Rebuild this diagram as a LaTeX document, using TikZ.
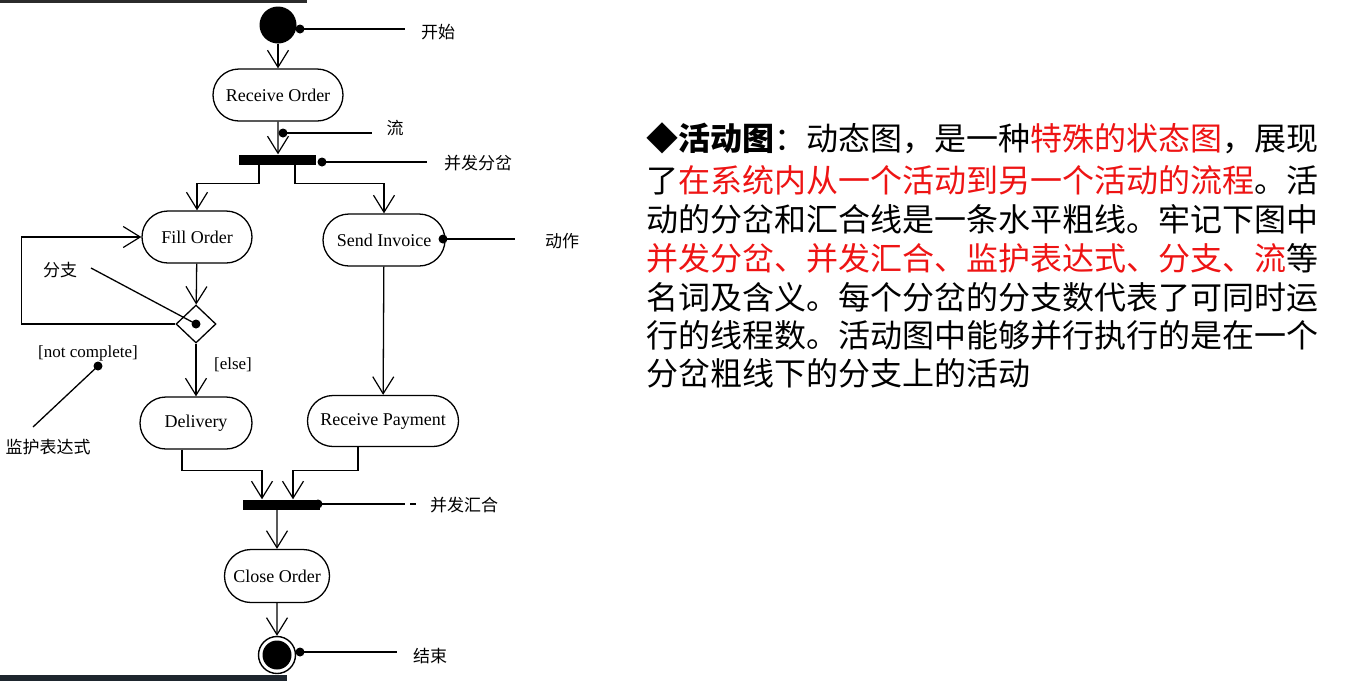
\documentclass[tikz,border=0pt]{standalone}
\usepackage{fontspec}
\setmainfont{Liberation Serif}
\newfontfamily\cjk{Noto Sans CJK SC}
\usetikzlibrary{arrows.meta,shapes.misc,shapes.geometric}
\definecolor{hl}{RGB}{238,20,20}
\definecolor{topbar}{RGB}{43,43,43}
\definecolor{botbar}{RGB}{30,38,46}

\tikzset{
  act/.style={draw, rounded rectangle, line width=1.3pt, inner sep=0pt,
    font=\fontsize{18}{21}\selectfont},
  syncbar/.style={fill=black, minimum width=77pt, minimum height=10pt, inner sep=0pt},
  flow/.style={line width=1.3pt, -{Straight Barb[length=17pt,width=21pt,line width=1.2pt]}},
  note/.style={line width=1.3pt},
  dot/.style={circle, fill=black, minimum size=9pt, inner sep=0pt},
  lbl/.style={font=\cjk\fontsize{17}{19}\selectfont, inner sep=0pt},
  guard/.style={font=\fontsize{17}{19}\selectfont, inner sep=0pt},
  para/.style={anchor=west, inner sep=0pt, font=\cjk\fontsize{32}{32}\selectfont},
}

\begin{document}
\begin{tikzpicture}[x=1pt,y=-1pt]
\useasboundingbox (0,0) rectangle (1371,681);
\fill[white] (0,0) rectangle (1371,681);

% frame strips
\fill[topbar] (0,0) rectangle (307,3);
\fill[botbar] (0,675) rectangle (287,681);

% ---- activity nodes ----
\node[circle, fill=black, minimum size=37pt, inner sep=0pt] (start) at (278,25) {};
\node[act, minimum width=130pt, minimum height=52pt] (recv) at (278,95) {Receive Order};
\node[syncbar] (fork) at (277.5,159.5) {};
\node[act, minimum width=110pt, minimum height=52pt] (fill) at (197,237) {Fill Order};
\node[act, minimum width=122pt, minimum height=52pt] (send) at (384,240) {Send Invoice};
\node[diamond, draw, line width=1.3pt, minimum width=40pt, minimum height=38pt, inner sep=0pt] (dec) at (196,324) {};
\node[act, minimum width=112pt, minimum height=52pt] (deliv) at (196,423) {Delivery};
\node[act, minimum width=151pt, minimum height=51pt] (pay) at (383,421) {Receive Payment};
\node[syncbar] (join) at (281.5,504.5) {};
\node[act, minimum width=105pt, minimum height=53pt] (close) at (277,576) {Close Order};
\node[circle, draw, line width=1.4pt, minimum size=37pt, inner sep=0pt] (stop) at (277,655) {};
\node[circle, fill=black, minimum size=29pt, inner sep=0pt] at (stop) {};

% ---- control flows ----
\draw[flow] (start) -- (recv);
\draw[flow] (recv) -- (fork.north -| recv);
\draw[flow] ([xshift=-18.5pt]fork.south) -- ++(0,19) -| (fill.north);
\draw[flow] ([xshift=17.5pt]fork.south) -- ++(0,19) -| (send.north);
\draw[flow] (fill) -- (dec);
\draw[flow] (dec.west) -- ++(-154,0) |- (fill.west);
\draw[flow] (dec) -- (deliv);
\draw[flow] (send) -- (pay);
\draw[flow] ([xshift=-14pt]deliv.south) -- ++(0,21) -| ([xshift=-19.5pt]join.north);
\draw[flow] ([xshift=-25pt]pay.south) -- ++(0,23) -| ([xshift=11.5pt]join.north);
\draw[flow] (join.south -| close) -- (close);
\draw[flow] (close) -- (stop);

% ---- guards ----
\node[guard] (gnc) at (88,353) {[not complete]};
\node[guard] (gel) at (233,365) {[else]};

% ---- annotations ----
\node[dot] (dStart) at (300,29) {};
\coordinate (eStart) at (405,29);
\node[lbl] (lStart) at (438,32) {开始};
\draw[note] (dStart.center) -- (eStart);

\node[dot] (dFlow) at (283,133) {};
\coordinate (eFlow) at (372,133);
\node[lbl] (lFlow) at (395,128) {流};
\draw[note] (dFlow.center) -- (eFlow);

\node[dot] (dFork) at (322,162) {};
\coordinate (eFork) at (427,162);
\node[lbl] (lFork) at (478,163) {并发分岔};
\draw[note] (dFork.center) -- (eFork);

\node[dot] (dAct) at (443,239) {};
\coordinate (eAct) at (515,239);
\node[lbl] (lAct) at (562,241) {动作};
\draw[note] (dAct.center) -- (eAct);

\node[dot] (dBr) at (dec) {};
\coordinate (eBr) at (91,268);
\node[lbl] (lBr) at (60,270) {分支};
\draw[note] (dBr.center) -- (eBr);

\node[dot] (dGd) at (98,366) {};
\coordinate (eGd) at (33,427);
\node[lbl] (lGd) at (48,447) {监护表达式};
\draw[note] (dGd.center) -- (eGd);

\node[dot] (dJoin) at (318,504) {};
\coordinate (eJoin) at (405,504);
\coordinate (sJoin) at (410,504);
\coordinate (tJoin) at (416,504);
\node[lbl] (lJoin) at (464,505) {并发汇合};
\draw[note] (dJoin.center) -- (eJoin);
\draw[note] (sJoin) -- (tJoin);

\node[dot] (dStop) at (300,652) {};
\coordinate (eStop) at (397,652);
\node[lbl] (lStop) at (430,656) {结束};
\draw[note] (dStop.center) -- (eStop);

% ---- explanatory text ----
\node[para] (p1) at (646,138) {{\bfseries ◆活动图}：动态图，是一种\textcolor{hl}{特殊的状态图}，展现};
\node[para] (p2) at (646,180) {了\textcolor{hl}{在系统内从一个活动到另一个活动的流程}。活};
\node[para] (p3) at (646,219) {动的分岔和汇合线是一条水平粗线。牢记下图中};
\node[para] (p4) at (646,258) {\textcolor{hl}{并发分岔、并发汇合、监护表达式、分支、流}等};
\node[para] (p5) at (646,297) {名词及含义。每个分岔的分支数代表了可同时运};
\node[para] (p6) at (646,335) {行的线程数。活动图中能够并行执行的是在一个};
\node[para] (p7) at (646,373) {分岔粗线下的分支上的活动};
\end{tikzpicture}
\end{document}
